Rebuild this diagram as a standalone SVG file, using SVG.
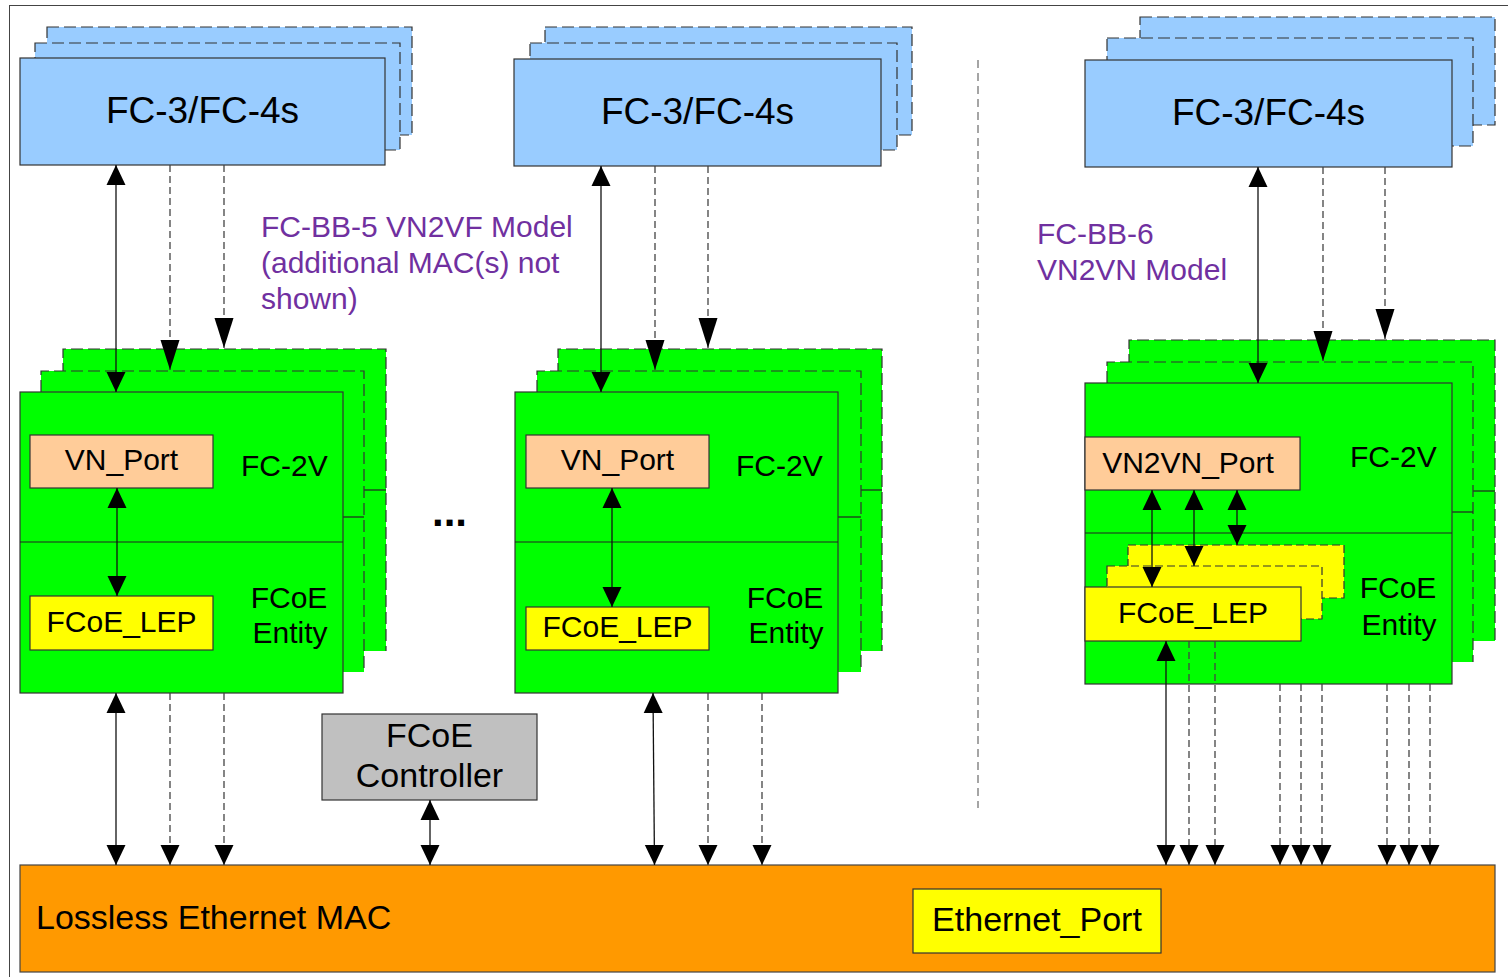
<svg xmlns="http://www.w3.org/2000/svg" width="1508" height="977" viewBox="0 0 1508 977">
  <defs>
    <marker id="arrow" viewBox="0 0 20 20" refX="20" refY="10" markerWidth="20" markerHeight="20" markerUnits="userSpaceOnUse" orient="auto-start-reverse">
      <path d="M0,0.5 L20,10 L0,19.5 Z" fill="#000"/>
    </marker>
    <marker id="arrow-long" viewBox="0 0 30 20" refX="30" refY="10" markerWidth="30" markerHeight="20" markerUnits="userSpaceOnUse" orient="auto-start-reverse">
      <path d="M0,0.5 L30,10 L0,19.5 Z" fill="#000"/>
    </marker>
    <style>
      text { font-family: "Liberation Sans", Arial, sans-serif; fill: #000; }
      .frame { fill: none; stroke: #444; stroke-width: 1; }
      .blue { fill: #99ccff; stroke: #333; stroke-width: 1.2; }
      .blue-back { fill: #99ccff; stroke: #333; stroke-width: 1.2; stroke-dasharray: 12 5; }
      .green { fill: #00ff00; stroke: #333; stroke-width: 1.2; }
      .green-back { fill: #00ff00; stroke: none; }
      .edge-dash { fill: none; stroke: #333; stroke-width: 1.2; stroke-dasharray: 12 5; }
      .divider { stroke: #222; stroke-width: 1.2; }
      .peach { fill: #ffcc99; stroke: #333; stroke-width: 1.2; }
      .yellow { fill: #ffff00; stroke: #333; stroke-width: 1.2; }
      .yellow-back { fill: #ffff00; stroke: #333; stroke-width: 1.2; stroke-dasharray: 8 4; }
      .orange { fill: #ff9900; stroke: #444; stroke-width: 1.2; }
      .grey { fill: #c0c0c0; stroke: #333; stroke-width: 1.2; }
      .big { font-size: 37px; }
      .mid { font-size: 34px; }
      .lbl { font-size: 30px; }
      .note { font-size: 30px; fill: #7030a0; }
      .solid { stroke: #111; stroke-width: 1.3; fill: none; }
      .dash { stroke: #444; stroke-width: 1.3; fill: none; stroke-dasharray: 7 4; }
      .sep { stroke: #888; stroke-width: 1.5; fill: none; stroke-dasharray: 8 5; }
    </style>
  </defs>

  <!-- outer frame -->
  <rect class="frame" x="9.5" y="5.5" width="1510" height="980"/>

  <!-- separator between the two models -->
  <line class="sep" x1="978" y1="60" x2="978" y2="808"/>

  <!-- upper layer stacks -->
  <g id="fc34-left">
    <rect class="blue-back" x="47" y="27" width="365" height="108"/>
    <rect class="blue-back" x="35" y="43" width="365" height="107"/>
    <rect class="blue" x="20" y="58" width="365" height="107"/>
    <text class="big" x="202.5" y="123" text-anchor="middle">FC-3/FC-4s</text>
  </g>
  <g id="fc34-middle">
    <rect class="blue-back" x="545" y="27" width="367" height="108"/>
    <rect class="blue-back" x="530" y="43" width="367" height="107"/>
    <rect class="blue" x="514" y="59" width="367" height="107"/>
    <text class="big" x="697.5" y="124" text-anchor="middle">FC-3/FC-4s</text>
  </g>
  <g id="fc34-right">
    <rect class="blue-back" x="1140" y="17" width="355" height="108"/>
    <rect class="blue-back" x="1107" y="38" width="366" height="108"/>
    <rect class="blue" x="1085" y="60" width="367" height="107"/>
    <text class="big" x="1268.5" y="125" text-anchor="middle">FC-3/FC-4s</text>
  </g>

  <!-- model notes -->
  <g id="note-bb5">
    <text class="note" x="261" y="237">FC-BB-5 VN2VF Model</text>
    <text class="note" x="261" y="273">(additional MAC(s) not</text>
    <text class="note" x="261" y="309">shown)</text>
  </g>
  <g id="note-bb6">
    <text class="note" x="1037" y="244">FC-BB-6</text>
    <text class="note" x="1037" y="280">VN2VN Model</text>
  </g>

  <!-- FC-2V / FCoE entity stack, left -->
  <g id="entity-left">
    <rect class="green-back" x="63" y="349" width="323" height="302"/>
    <path class="edge-dash" d="M63,392 V349 H386 V651"/>
    <line class="divider" x1="364" y1="490" x2="386" y2="490"/>
    <rect class="green-back" x="41" y="371" width="323" height="301"/>
    <path class="edge-dash" d="M41,392 V371 H364 V672"/>
    <line class="divider" x1="343" y1="517" x2="364" y2="517"/>
    <rect class="green" x="20" y="392" width="323" height="301"/>
    <line class="divider" x1="20" y1="542" x2="343" y2="542"/>
    <rect class="peach" x="30" y="435" width="183" height="53"/>
    <text class="lbl" x="121.5" y="470" text-anchor="middle">VN_Port</text>
    <text class="lbl" x="241" y="476">FC-2V</text>
    <rect class="yellow" x="30" y="596" width="183" height="54"/>
    <text class="lbl" x="121.5" y="632" text-anchor="middle">FCoE_LEP</text>
    <text class="lbl" x="289" y="608" text-anchor="middle">FCoE</text>
    <text class="lbl" x="290" y="643" text-anchor="middle">Entity</text>
  </g>

  <!-- FC-2V / FCoE entity stack, middle -->
  <g id="entity-middle">
    <rect class="green-back" x="558" y="349" width="324" height="302"/>
    <path class="edge-dash" d="M558,392 V349 H882 V651"/>
    <line class="divider" x1="861" y1="490" x2="882" y2="490"/>
    <rect class="green-back" x="537" y="371" width="324" height="301"/>
    <path class="edge-dash" d="M537,392 V371 H861 V672"/>
    <line class="divider" x1="838" y1="517" x2="861" y2="517"/>
    <rect class="green" x="515" y="392" width="323" height="301"/>
    <line class="divider" x1="515" y1="542" x2="838" y2="542"/>
    <rect class="peach" x="526" y="435" width="183" height="53"/>
    <text class="lbl" x="617.5" y="470" text-anchor="middle">VN_Port</text>
    <text class="lbl" x="736" y="476">FC-2V</text>
    <rect class="yellow" x="526" y="607" width="183" height="43"/>
    <text class="lbl" x="617.5" y="637" text-anchor="middle">FCoE_LEP</text>
    <text class="lbl" x="785" y="608" text-anchor="middle">FCoE</text>
    <text class="lbl" x="786" y="643" text-anchor="middle">Entity</text>
  </g>

  <!-- ellipsis between the VN2VF instances -->
  <text x="432" y="526" style="font-size:42px;font-weight:bold">...</text>

  <!-- FC-2V / FCoE entity stack, VN2VN -->
  <g id="entity-right">
    <rect class="green-back" x="1129" y="340" width="366" height="301"/>
    <path class="edge-dash" d="M1129,383 V340 H1495 V641"/>
    <line class="divider" x1="1473" y1="491" x2="1495" y2="491"/>
    <rect class="green-back" x="1107" y="362" width="366" height="300"/>
    <path class="edge-dash" d="M1107,383 V362 H1473 V662"/>
    <line class="divider" x1="1452" y1="512" x2="1473" y2="512"/>
    <rect class="green" x="1085" y="383" width="367" height="301"/>
    <line class="divider" x1="1085" y1="533" x2="1452" y2="533"/>
    <rect class="peach" x="1085" y="437" width="215" height="53"/>
    <text class="lbl" x="1188" y="473" text-anchor="middle">VN2VN_Port</text>
    <text class="lbl" x="1350" y="467">FC-2V</text>
    <rect class="yellow-back" x="1128" y="545" width="216" height="53"/>
    <rect class="yellow-back" x="1107" y="566" width="215" height="53"/>
    <rect class="yellow" x="1085" y="587" width="216" height="54"/>
    <text class="lbl" x="1193" y="623" text-anchor="middle">FCoE_LEP</text>
    <text class="lbl" x="1398" y="598" text-anchor="middle">FCoE</text>
    <text class="lbl" x="1399" y="635" text-anchor="middle">Entity</text>
  </g>

  <!-- FCoE controller -->
  <g id="fcoe-controller">
    <rect class="grey" x="322" y="714" width="215" height="86"/>
    <text class="mid" x="429.5" y="747" text-anchor="middle">FCoE</text>
    <text class="mid" x="429.5" y="787" text-anchor="middle">Controller</text>
  </g>

  <!-- lossless Ethernet MAC -->
  <g id="ethernet-mac">
    <rect class="orange" x="20" y="865" width="1475" height="107"/>
    <text class="mid" x="36" y="929">Lossless Ethernet MAC</text>
  </g>
  <g id="ethernet-port">
    <rect class="yellow" x="913" y="889" width="248" height="64"/>
    <text class="mid" x="1037" y="931" text-anchor="middle">Ethernet_Port</text>
  </g>

  <!-- connectors -->
  <g id="connectors">
    <!-- left instance -->
    <line class="solid" x1="116" y1="165" x2="116" y2="392" marker-start="url(#arrow)" marker-end="url(#arrow)"/>
    <line class="dash" x1="170" y1="165" x2="170" y2="370" marker-end="url(#arrow-long)"/>
    <line class="dash" x1="224" y1="165" x2="224" y2="348" marker-end="url(#arrow-long)"/>
    <line class="solid" x1="117" y1="488" x2="117" y2="596" marker-start="url(#arrow)" marker-end="url(#arrow)"/>
    <line class="solid" x1="116" y1="693" x2="116" y2="865" marker-start="url(#arrow)" marker-end="url(#arrow)"/>
    <line class="dash" x1="170" y1="693" x2="170" y2="865" marker-end="url(#arrow)"/>
    <line class="dash" x1="224" y1="693" x2="224" y2="865" marker-end="url(#arrow)"/>

    <!-- controller -->
    <line class="solid" x1="430" y1="800" x2="430" y2="865" marker-start="url(#arrow)" marker-end="url(#arrow)"/>

    <!-- middle instance -->
    <line class="solid" x1="601" y1="166" x2="601" y2="392" marker-start="url(#arrow)" marker-end="url(#arrow)"/>
    <line class="dash" x1="655" y1="166" x2="655" y2="370" marker-end="url(#arrow-long)"/>
    <line class="dash" x1="708" y1="166" x2="708" y2="348" marker-end="url(#arrow-long)"/>
    <line class="solid" x1="612" y1="488" x2="612" y2="607" marker-start="url(#arrow)" marker-end="url(#arrow)"/>
    <line class="solid" x1="653" y1="693" x2="654.5" y2="865" marker-start="url(#arrow)" marker-end="url(#arrow)"/>
    <line class="dash" x1="708" y1="693" x2="708" y2="865" marker-end="url(#arrow)"/>
    <line class="dash" x1="762" y1="693" x2="762" y2="865" marker-end="url(#arrow)"/>

    <!-- VN2VN instance -->
    <line class="solid" x1="1258" y1="167" x2="1258" y2="383" marker-start="url(#arrow)" marker-end="url(#arrow)"/>
    <line class="dash" x1="1323" y1="167" x2="1323" y2="361" marker-end="url(#arrow-long)"/>
    <line class="dash" x1="1385" y1="167" x2="1385" y2="339" marker-end="url(#arrow-long)"/>
    <line class="solid" x1="1152" y1="490" x2="1152" y2="587" marker-start="url(#arrow)" marker-end="url(#arrow)"/>
    <line class="solid" x1="1194" y1="490" x2="1194" y2="566" marker-start="url(#arrow)" marker-end="url(#arrow)"/>
    <line class="solid" x1="1237" y1="490" x2="1237" y2="545" marker-start="url(#arrow)" marker-end="url(#arrow)"/>
    <line class="solid" x1="1166" y1="641" x2="1166" y2="865" marker-start="url(#arrow)" marker-end="url(#arrow)"/>
    <line class="dash" x1="1189" y1="641" x2="1189" y2="865" marker-end="url(#arrow)"/>
    <line class="dash" x1="1215" y1="641" x2="1215" y2="865" marker-end="url(#arrow)"/>
    <line class="dash" x1="1280" y1="684" x2="1280" y2="865" marker-end="url(#arrow)"/>
    <line class="dash" x1="1301" y1="684" x2="1301" y2="865" marker-end="url(#arrow)"/>
    <line class="dash" x1="1322" y1="684" x2="1322" y2="865" marker-end="url(#arrow)"/>
    <line class="dash" x1="1387" y1="684" x2="1387" y2="865" marker-end="url(#arrow)"/>
    <line class="dash" x1="1409" y1="684" x2="1409" y2="865" marker-end="url(#arrow)"/>
    <line class="dash" x1="1430" y1="684" x2="1430" y2="865" marker-end="url(#arrow)"/>
  </g>
</svg>
